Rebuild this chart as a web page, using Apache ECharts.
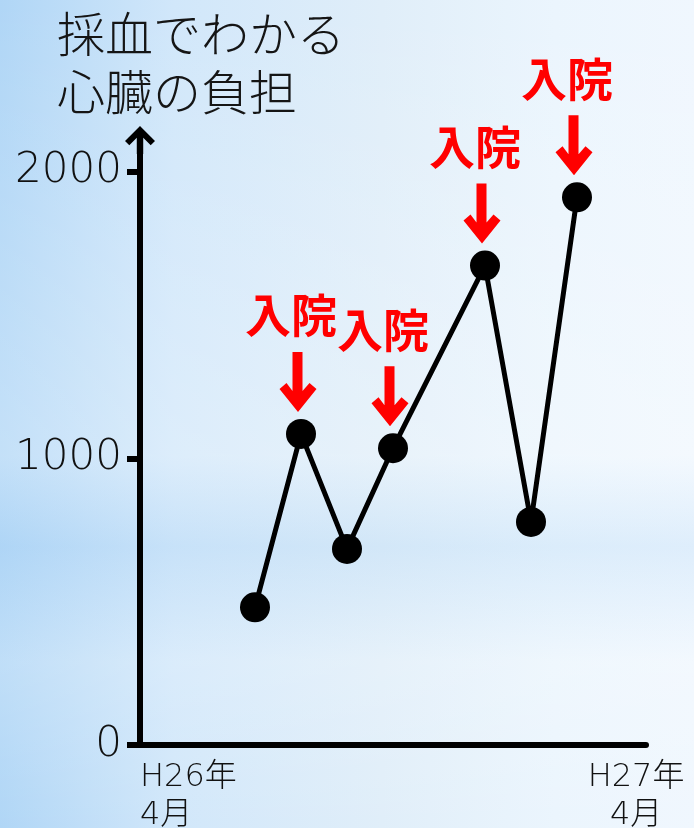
<!DOCTYPE html>
<html>
<head>
<meta charset="utf-8">
<script src="https://cdn.jsdelivr.net/npm/echarts@6/dist/echarts.min.js"></script>
<style>
  html, body { margin: 0; padding: 0; }
  body {
    width: 694px; height: 828px; overflow: hidden;
    background:
      linear-gradient(to bottom, rgba(255,255,255,0) 0%, rgba(255,255,255,0.25) 55%, rgba(170,210,245,0.25) 66%, rgba(255,255,255,0.2) 80%, rgba(255,255,255,0) 100%),
      linear-gradient(to right, #b0d6f6 0%, #d1e7fa 25%, #e0eef9 55%, #ebf5fd 80%, #f0f7fe 100%);
  }
  #chart { width: 694px; height: 828px; }
</style>
</head>
<body>
<div id="chart"></div>
<script>
// 月ごとの検査値（H26年4月〜H27年4月）
const months = ['5月', '6月', '7月', '8月', '9月', '10月', '11月', '12月', '1月', '2月', '3月'];
const load = [null, null, 480, 1085, 684, 1035, null, 1672, 778, 1910, null];
const admitted = ['8月', '10月', '12月', '2月'];
const yTicks = [0, 1000, 2000];
const endLabels = ['H26年\n4月', 'H27年\n4月'];

const latin = "'DejaVu Sans', 'Noto Sans CJK JP', sans-serif";
const jp = "'Noto Sans CJK JP', sans-serif";

// 軸の矢印と入院マーカーの形
const axisArrow = 'path://M14 0 L28 14 L24 18 L17 11 L17 26 L11 26 L11 11 L4 18 L0 14 Z';
const downArrow = 'path://M13 0 L23 0 L23 39 L30 31 L37 37 L18.5 60 L0 37 L7 31 L13 39 Z';

const admitData = admitted.map(m => [m, load[months.indexOf(m)]]);

const chart = echarts.init(document.getElementById('chart'));
chart.setOption({
  animation: false,
  title: {
    text: '採血でわかる\n心臓の負担',
    left: 52,
    top: 0,
    textStyle: { fontFamily: jp, fontSize: 48, fontWeight: 300, lineHeight: 58, color: '#151515' }
  },
  grid: { left: 140, right: 48, top: 140, bottom: 83, containLabel: false, outerBoundsMode: 'none' },
  xAxis: [{
    type: 'category',
    data: months,
    axisLine: { lineStyle: { color: '#000', width: 6 } },
    axisTick: { show: false },
    axisLabel: { show: false },
    splitLine: { show: false }
  }, {
    type: 'value',
    position: 'bottom',
    min: 0,
    max: 1.02,
    axisLine: { show: false },
    axisTick: { show: false },
    splitLine: { show: false },
    axisLabel: {
      customValues: [0, 1],
      margin: 14,
      fontFamily: latin,
      fontSize: 32,
      fontWeight: 200,
      lineHeight: 38,
      color: '#111',
      alignMinLabel: 'left',
      formatter: v => endLabels[v]
    }
  }],
  yAxis: {
    type: 'value',
    min: 0,
    max: 2110,
    axisLine: {
      show: true,
      symbol: ['none', axisArrow],
      symbolSize: [30, 28],
      lineStyle: { color: '#000', width: 6 }
    },
    axisTick: { show: true, customValues: yTicks, length: 13, lineStyle: { color: '#000', width: 6 } },
    axisLabel: {
      customValues: yTicks,
      margin: 18,
      fontFamily: latin,
      fontSize: 42,
      fontWeight: 200,
      color: '#111',
      formatter: v => String(v)
    },
    splitLine: { show: false }
  },
  series: [{
    type: 'line',
    data: load,
    connectNulls: true,
    symbol: 'circle',
    symbolSize: 30,
    lineStyle: { color: '#000', width: 5 },
    itemStyle: { color: '#000' },
    z: 3
  }, {
    type: 'scatter',
    data: admitData,
    symbol: downArrow,
    symbolSize: [37, 60],
    symbolOffset: [-3, -52],
    itemStyle: { color: '#ff0000', opacity: 1 },
    z: 4
  }, {
    type: 'scatter',
    data: admitData,
    symbolSize: 1,
    itemStyle: { color: 'rgba(0,0,0,0)', opacity: 1 },
    label: {
      show: true,
      position: 'inside',
      offset: [-10, -119],
      formatter: '入院',
      fontFamily: jp,
      fontSize: 46,
      fontWeight: 'bold',
      color: '#ff0000'
    },
    z: 5
  }]
});
</script>
</body>
</html>
